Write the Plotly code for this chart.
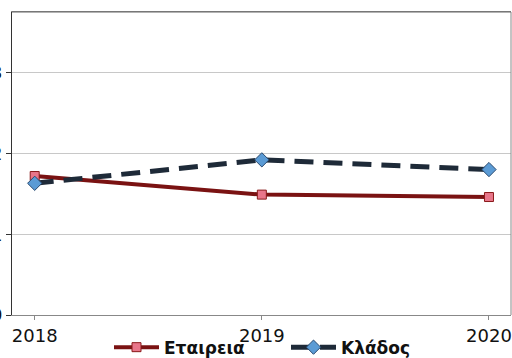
import plotly.graph_objects as go

years = [2018, 2019, 2020]
company = [1.72, 1.49, 1.46]
sector = [1.63, 1.92, 1.80]
y_ticks = [0, 1, 2, 3]

fig = go.Figure()
fig.add_trace(go.Scatter(
    x=years, y=company, name="Εταιρεια", mode="lines+markers",
    line=dict(color="#7a1212", width=4),
    marker=dict(symbol="square", size=9, color="#e8768a", line=dict(color="#8a1a1a", width=1)),
))
fig.add_trace(go.Scatter(
    x=years, y=sector, name="Κλάδος", mode="lines+markers",
    line=dict(color="#1e2a38", width=5, dash="19px,10px"),
    marker=dict(symbol="diamond", size=11, color="#5b9bd5", line=dict(color="#2a4a70", width=1)),
))

fig.update_layout(
    width=512, height=358,
    margin=dict(l=12, r=1, t=12, b=43, autoexpand=False),
    paper_bgcolor="white", plot_bgcolor="white",
    font=dict(family="DejaVu Sans", size=18, color="#111"),
    showlegend=True,
    legend=dict(orientation="h", x=109 / 512, xanchor="left", xref="container",
                y=0.029, yanchor="middle", yref="container",
                font=dict(size=17, family="DejaVu Sans", weight="bold"),
                itemwidth=45, entrywidth=117, entrywidthmode="pixels",
                tracegroupgap=0, bgcolor="rgba(0,0,0,0)"),
)
fig.update_xaxes(
    range=[2017.9, 2020.097], tickvals=years, ticktext=[str(y) for y in years],
    showgrid=False, showline=True, linecolor="#888", linewidth=1, mirror=True,
    ticks="outside", ticklen=4, tickcolor="#888", automargin=False, zeroline=False,
)
fig.update_yaxes(
    range=[0, 3.75], tickvals=y_ticks, showgrid=True, gridcolor="#c8c8c8", gridwidth=1,
    showline=True, linecolor="#333", linewidth=1, mirror=False,
    ticks="outside", ticklen=5, tickcolor="#333", automargin=False, zeroline=False,
)
fig.add_shape(type="line", xref="paper", yref="paper", x0=1, x1=1, y0=0, y1=1,
              line=dict(color="#888", width=1))
fig.add_shape(type="line", xref="paper", yref="paper", x0=0, x1=1, y0=1, y1=1,
              line=dict(color="#666", width=1))

fig.write_html("out.html", config={"displayModeBar": False},
               post_script="document.body.style.margin='0';document.body.style.overflow='hidden';")
